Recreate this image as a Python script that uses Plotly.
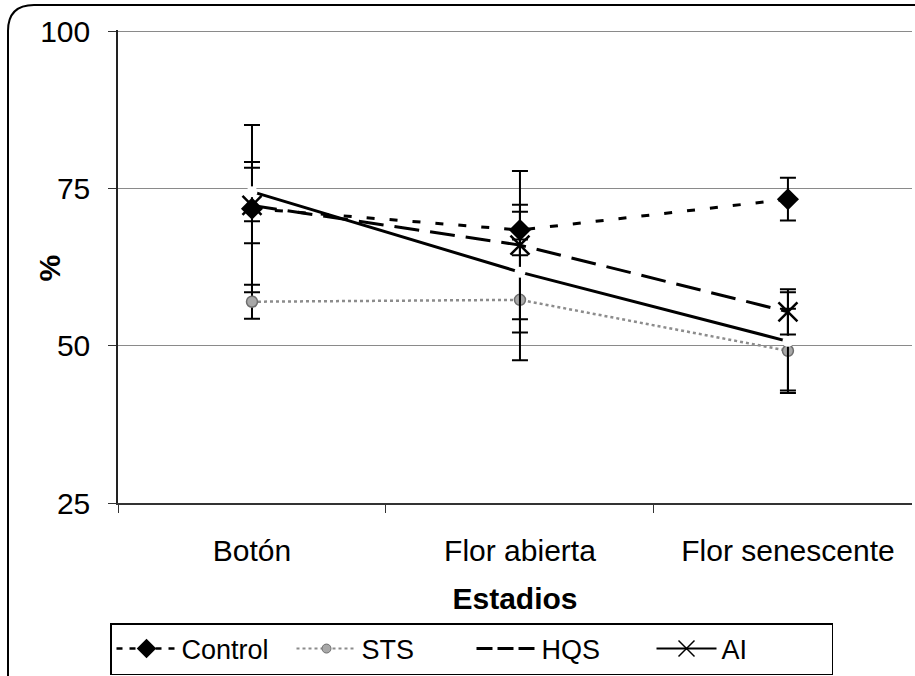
import plotly.graph_objects as go

# Categories and measured percentages per treatment
estadios = ["Botón", "Flor abierta", "Flor senescente"]
xpos = [0, 1, 2]

control = [71.8, 68.4, 73.3]
control_err = [13.3, 4.0, 3.4]

sts = [57.0, 57.3, 49.2]
sts_err = [2.7, 9.6, 6.7]

hqs = [74.5, 61.7, 50.7]
hqs_err = [4.7, 9.6, 7.8]

ai = [72.3, 66.0, 55.4]
ai_err = [6.0, 11.8, 3.6]

y_ticks = [25, 50, 75, 100]

W, H = 915, 676
L, R, T, B = 118, 3, 30, 173
PW, PH = W - L - R, H - T - B


def px(xp):
    return (xp - L) / PW


def py(yp):
    return (H - B - yp) / PH


FONT = "Liberation Sans, Arial, sans-serif"
err_style = dict(type="data", color="black", thickness=2, width=8)

fig = go.Figure()

fig.add_trace(go.Scatter(
    x=xpos, y=control, name="Control", mode="lines+markers",
    line=dict(color="black", width=3, dash="8px,15px"),
    marker=dict(symbol="diamond", size=17, color="black"),
    error_y=dict(array=control_err, **err_style), showlegend=False))

fig.add_trace(go.Scatter(
    x=xpos, y=sts, name="STS", mode="lines+markers",
    line=dict(color="#8c8c8c", width=2.5, dash="dot"),
    marker=dict(symbol="circle", size=11, color="#a8a8a8",
                line=dict(color="#6e6e6e", width=1.5)),
    error_y=dict(array=sts_err, **err_style), showlegend=False))

fig.add_trace(go.Scatter(
    x=xpos, y=ai, name="AI", mode="lines+markers",
    line=dict(color="black", width=3, dash="25px,11px"),
    marker=dict(symbol="x-thin", size=19, color="black",
                line=dict(color="black", width=2.5)),
    error_y=dict(array=ai_err, **err_style), showlegend=False))

fig.add_trace(go.Scatter(
    x=xpos, y=hqs, name="HQS", mode="lines+markers",
    line=dict(color="black", width=3),
    marker=dict(symbol="circle", size=11, color="white"),
    error_y=dict(array=hqs_err, **err_style), showlegend=False))

# Legend entries
fig.add_trace(go.Scatter(
    x=[None], y=[None], name="Control", mode="lines+markers",
    line=dict(color="black", width=2.5, dash="6px,7px"),
    marker=dict(symbol="diamond", size=15, color="black")))
fig.add_trace(go.Scatter(
    x=[None], y=[None], name="STS", mode="lines+markers",
    line=dict(color="#8c8c8c", width=2, dash="dot"),
    marker=dict(symbol="circle", size=9, color="#a8a8a8",
                line=dict(color="#6e6e6e", width=1))))
fig.add_trace(go.Scatter(
    x=[None], y=[None], name="HQS", mode="lines",
    line=dict(color="black", width=3, dash="16px,5px")))
fig.add_trace(go.Scatter(
    x=[None], y=[None], name="AI", mode="lines+markers",
    line=dict(color="black", width=2),
    marker=dict(symbol="x-thin", size=16, color="black",
                line=dict(color="black", width=1.5))))

# Rounded outer frame
x0, y0, r = 8, 5, 26
frame = (f"M {px(x0)} {py(H + 10)} L {px(x0)} {py(y0 + r)} "
         f"Q {px(x0)} {py(y0)} {px(x0 + r)} {py(y0)} L {px(W + 20)} {py(y0)}")

fig.update_layout(
    width=W, height=H,
    margin=dict(l=L, r=R, t=T, b=B, pad=0, autoexpand=False),
    paper_bgcolor="white", plot_bgcolor="white",
    font=dict(family=FONT, color="black", size=26),
    shapes=[dict(type="path", path=frame, xref="paper", yref="paper",
                 line=dict(color="black", width=2))],
    annotations=[dict(text="<b>%</b>", x=px(30), y=py(268), xref="paper",
                      yref="paper", textangle=-90, showarrow=False,
                      font=dict(size=30, family=FONT))],
    xaxis=dict(
        range=[-0.5, 2.463], tickvals=xpos, ticktext=estadios,
        ticks="", showgrid=False, zeroline=False, automargin=False,
        showline=True, linecolor="#333", linewidth=1.5,
        tickfont=dict(size=30, family=FONT),
        ticklabelstandoff=20,
        minor=dict(tickvals=[-0.5, 0.5, 1.5], ticks="outside", ticklen=8,
                   tickcolor="#333", tickwidth=1.2, showgrid=False),
        title=dict(text="<b>Estadios</b>", font=dict(size=30, family=FONT),
                   standoff=22),
    ),
    yaxis=dict(
        range=[25, 100.2], tickvals=y_ticks, automargin=False,
        ticks="outside", ticklen=8, tickcolor="#333", tickwidth=1.2,
        showgrid=True, gridcolor="#8a8a8a", gridwidth=1.2,
        zeroline=False, showline=True, linecolor="#222", linewidth=1.5,
        tickfont=dict(size=30, family=FONT), ticklabelstandoff=12,
    ),
    legend=dict(
        orientation="h", x=px(110), y=py(623), xanchor="left", yanchor="top",
        bordercolor="black", borderwidth=1.5, bgcolor="white",
        font=dict(size=27, family=FONT), itemwidth=60,
        entrywidth=105, entrywidthmode="pixels",
        tracegroupgap=0, traceorder="normal",
    ),
)

fig.write_html("out.html")
